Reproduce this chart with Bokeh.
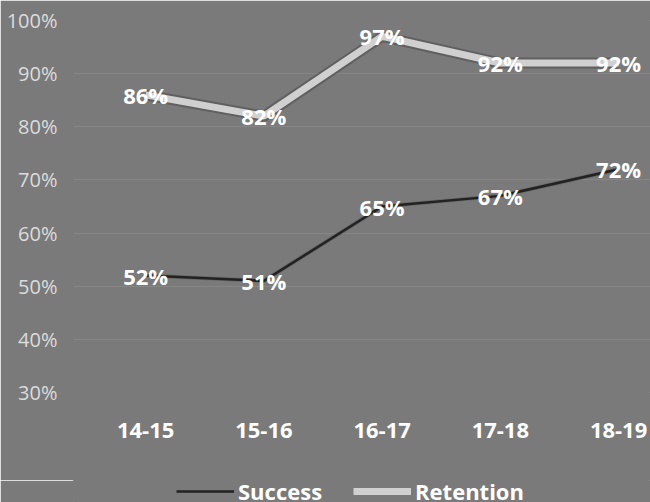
from bokeh.plotting import figure
from bokeh.layouts import column
from bokeh.models import (ColumnDataSource, Range1d, FixedTicker, PrintfTickFormatter,
                          Legend, LegendItem, LabelSet)
from bokeh.embed import file_html
from bokeh.resources import INLINE
from bokeh.core.properties import value

categories = ["14-15", "15-16", "16-17", "17-18", "18-19"]
success = [52, 51, 65, 67, 72]
retention = [86, 82, 97, 92, 92]
y_ticks = [30, 40, 50, 60, 70, 80, 90, 100]
series_names = ["Success", "Retention"]

xs = list(range(len(categories)))
src_s = ColumnDataSource(dict(x=xs, y=success, t=[f"{v}%" for v in success]))
src_r = ColumnDataSource(dict(x=xs, y=retention, t=[f"{v}%" for v in retention]))

BG = "#7a7a7a"
FONT = "Open Sans"
RET_COLOR = "#d0d0d0"
SUC_COLOR = "#222222"

p = figure(width=650, height=480, output_backend="svg", toolbar_location=None,
           x_range=Range1d(-0.61, 4.27), y_range=Range1d(30, 100),
           min_border_left=73, min_border_right=0, min_border_top=20, min_border_bottom=88)
p.background_fill_color = BG
p.border_fill_color = BG
p.outline_line_color = BG

p.xgrid.grid_line_color = None
p.ygrid.grid_line_color = "#868686"
p.ygrid.grid_line_width = 1
p.ygrid.ticker = FixedTicker(ticks=y_ticks)

p.yaxis.ticker = FixedTicker(ticks=y_ticks)
p.yaxis.formatter = PrintfTickFormatter(format="%d%%")
p.yaxis.axis_line_color = None
p.yaxis.major_tick_line_color = None
p.yaxis.minor_tick_line_color = None
p.yaxis.major_label_text_font = FONT
p.yaxis.major_label_text_font_size = "20px"
p.yaxis.major_label_text_color = "#dcdcdc"
p.yaxis.major_label_standoff = 10

p.xaxis.ticker = FixedTicker(ticks=xs)
p.xaxis.major_label_overrides = {i: c for i, c in enumerate(categories)}
p.xaxis.axis_line_color = None
p.xaxis.major_tick_line_color = None
p.xaxis.minor_tick_line_color = None
p.xaxis.major_label_text_font = FONT
p.xaxis.major_label_text_font_style = "bold"
p.xaxis.major_label_text_font_size = "22px"
p.xaxis.major_label_text_color = "#ffffff"
p.xaxis.major_label_standoff = 24

# retention shadow + line
p.line("x", "y", source=src_r, line_color="#404040", line_width=11, line_alpha=0.45)
p.line("x", "y", source=src_r, line_color=RET_COLOR, line_width=7)
p.line("x", "y", source=src_s, line_color="#444444", line_width=4, line_alpha=0.35)
p.line("x", "y", source=src_s, line_color=SUC_COLOR, line_width=2.5)

for src in (src_r, src_s):
    lab = LabelSet(x="x", y="y", text="t", source=src, text_align="center",
                   text_baseline="middle", text_font=value(FONT), text_font_style="bold",
                   text_font_size="22px", text_color="#ffffff")
    p.add_layout(lab)

# legend strip
p2 = figure(width=650, height=22, output_backend="svg", toolbar_location=None,
            min_border=0)
p2.background_fill_color = BG
p2.border_fill_color = BG
p2.outline_line_color = BG
p2.axis.visible = False
p2.grid.grid_line_color = None
g_suc = p2.line(x=[0], y=[0], line_color=SUC_COLOR, line_width=2.5)
g_ret = p2.line(x=[0], y=[0], line_color=RET_COLOR, line_width=7)

legend = Legend(items=[LegendItem(label=series_names[0], renderers=[g_suc]),
                       LegendItem(label=series_names[1], renderers=[g_ret])],
                orientation="horizontal", location=(103, -4),
                background_fill_alpha=0, border_line_color=None,
                label_text_font=FONT, label_text_font_style="bold",
                label_text_font_size="22px", label_text_color="#ffffff",
                glyph_width=58, label_standoff=4, spacing=31, padding=0, margin=0)
p2.add_layout(legend)

open("out.html", "w").write(file_html(column(p, p2), INLINE))
